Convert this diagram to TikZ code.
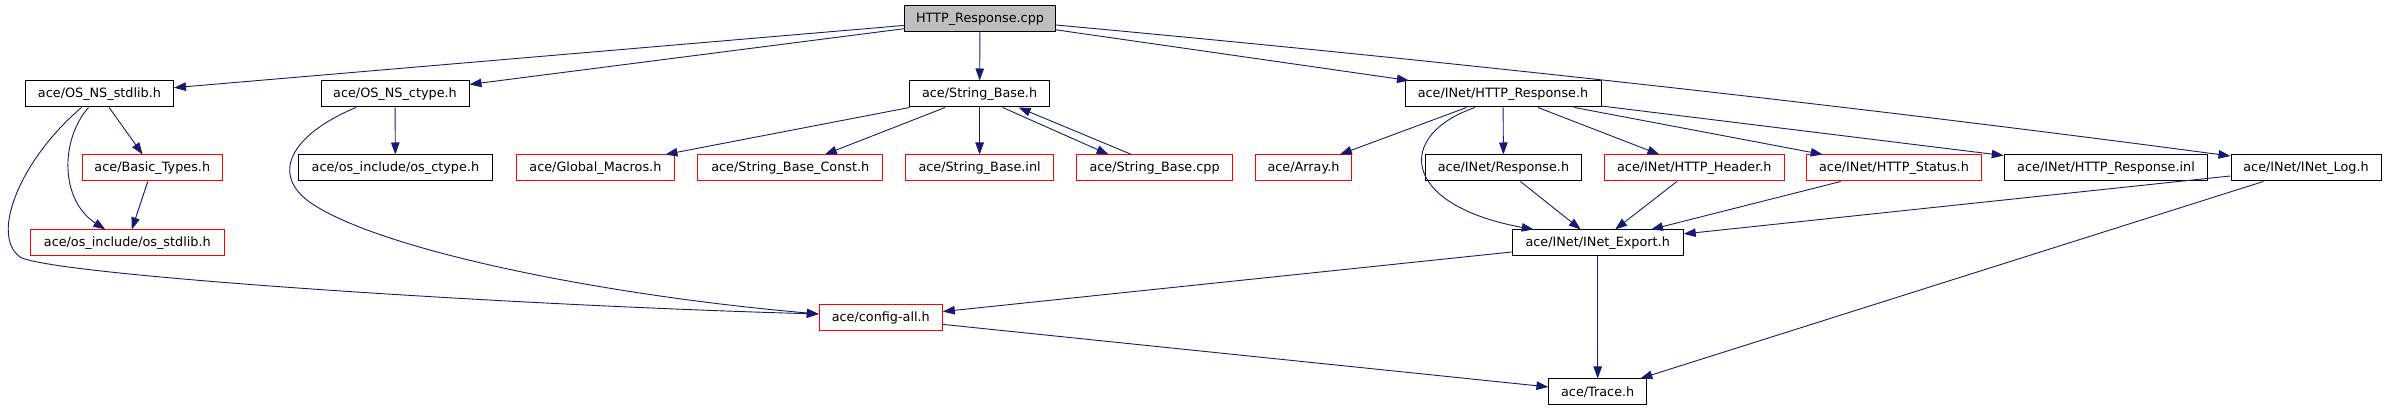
\documentclass[tikz,border=0pt]{standalone}
\usepackage{fontspec}
\setmainfont{DejaVu Sans}
\usepackage{tikz}
\usetikzlibrary{arrows.meta}
\definecolor{edgeblue}{HTML}{191970}
\definecolor{boxred}{HTML}{FF0000}
\definecolor{rootgray}{HTML}{BFBFBF}

\begin{document}
\begin{tikzpicture}[
  x=1pt,y=1pt,
  font=\fontsize{12.8}{14}\selectfont,
  hdr/.style={draw=black,line width=1pt,minimum height=26pt,inner sep=1pt},
  ext/.style={hdr,draw=boxred},
  root/.style={hdr,fill=rootgray},
  dep/.style={-{Triangle[length=12pt,width=8.5pt]},line width=0.9pt,draw=edgeblue}
]
\useasboundingbox (0,0) rectangle (2386,-411);

\node[root,minimum width=151pt] (cpp) at (980,-19) {HTTP\_Response.cpp};

\node[hdr,minimum width=148pt] (stdlib) at (99.5,-94) {ace/OS\_NS\_stdlib.h};
\node[hdr,minimum width=148pt] (ctype) at (395,-94) {ace/OS\_NS\_ctype.h};
\node[hdr,minimum width=140pt] (strbase) at (979.6,-94) {ace/String\_Base.h};
\node[hdr,minimum width=196pt] (httpresp) at (1503,-94) {ace/INet/HTTP\_Response.h};

\node[ext,minimum width=140pt] (basictypes) at (152.3,-168) {ace/Basic\_Types.h};
\node[hdr,minimum width=194pt] (osctype) at (395.4,-168) {ace/os\_include/os\_ctype.h};
\node[ext,minimum width=158pt] (globalmacros) at (595.4,-168) {ace/Global\_Macros.h};
\node[ext,minimum width=185pt] (strconst) at (790.3,-168) {ace/String\_Base\_Const.h};
\node[ext,minimum width=148pt] (strinl) at (979.6,-168) {ace/String\_Base.inl};
\node[ext,minimum width=156pt] (strcpp) at (1154.6,-168) {ace/String\_Base.cpp};
\node[ext,minimum width=96pt] (array) at (1303.5,-168) {ace/Array.h};
\node[hdr,minimum width=156pt] (response) at (1503.5,-168) {ace/INet/Response.h};
\node[ext,minimum width=180pt] (httpheader) at (1694.3,-168) {ace/INet/HTTP\_Header.h};
\node[ext,minimum width=175pt] (httpstatus) at (1894,-168) {ace/INet/HTTP\_Status.h};
\node[hdr,minimum width=203.5pt] (httprespinl) at (2106,-168) {ace/INet/HTTP\_Response.inl};
\node[hdr,minimum width=150pt] (inetlog) at (2306,-168) {ace/INet/INet\_Log.h};

\node[ext,minimum width=194pt] (osstdlib) at (127.3,-243) {ace/os\_include/os\_stdlib.h};
\node[hdr,minimum width=171pt] (inetexport) at (1597.7,-243) {ace/INet/INet\_Export.h};

\node[ext,minimum width=123pt] (configall) at (880.8,-318) {ace/config-all.h};

\node[hdr,minimum width=97.5pt] (trace) at (1597.7,-392) {ace/Trace.h};

\draw[dep] (cpp) -- (stdlib);
\draw[dep] (cpp) -- (ctype);
\draw[dep] (cpp) -- (strbase);
\draw[dep] (cpp) -- (httpresp);
\draw[dep] ([yshift=-6pt]cpp.east) .. controls (1447,-61) and (1839,-104) .. ([yshift=12pt]inetlog.west);

\draw[dep] (stdlib) -- (basictypes);
\draw[dep] ([xshift=-11pt]stdlib.south) .. controls (60,-140) and (60,-200) .. ([xshift=-22pt]osstdlib.north);
\draw[dep] ([xshift=-18pt]stdlib.south) .. controls (20,-160) and (-10,-235) .. (20,-257)
  .. controls (50,-275) and (500,-305) .. ([yshift=4pt]configall.west);
\draw[dep] (basictypes) -- (osstdlib);

\draw[dep] (ctype) -- (osctype);
\draw[dep] ([xshift=-39pt]ctype.south) .. controls (290,-135) and (270,-175) .. (311,-203)
  .. controls (380,-250) and (600,-295) .. ([yshift=4pt]configall.west);

\draw[dep] (strbase) -- (globalmacros);
\draw[dep] (strbase) -- (strconst);
\draw[dep] (strbase) -- (strinl);
\draw[dep] ([xshift=23pt]strbase.south) -- ([xshift=-46pt]strcpp.north);
\draw[dep] ([xshift=-23pt]strcpp.north) -- ([xshift=39pt]strbase.south);

\draw[dep] (httpresp) -- (array);
\draw[dep] (httpresp) -- (response);
\draw[dep] (httpresp) -- (httpheader);
\draw[dep] (httpresp) -- (httpstatus);
\draw[dep] (httpresp) -- (httprespinl);
\draw[dep] ([xshift=-28pt]httpresp.south) .. controls (1395,-135) and (1400,-205) .. ([xshift=-64pt]inetexport.north);

\draw[dep] (response) -- (inetexport);
\draw[dep] (httpheader) -- (inetexport);
\draw[dep] (httpstatus) -- (inetexport);
\draw[dep] (inetlog) -- (inetexport);
\draw[dep] (inetlog) -- (trace);

\draw[dep] (inetexport) -- (configall);
\draw[dep] (inetexport) -- (trace);
\draw[dep] (configall) -- (trace);
\end{tikzpicture}
\end{document}
